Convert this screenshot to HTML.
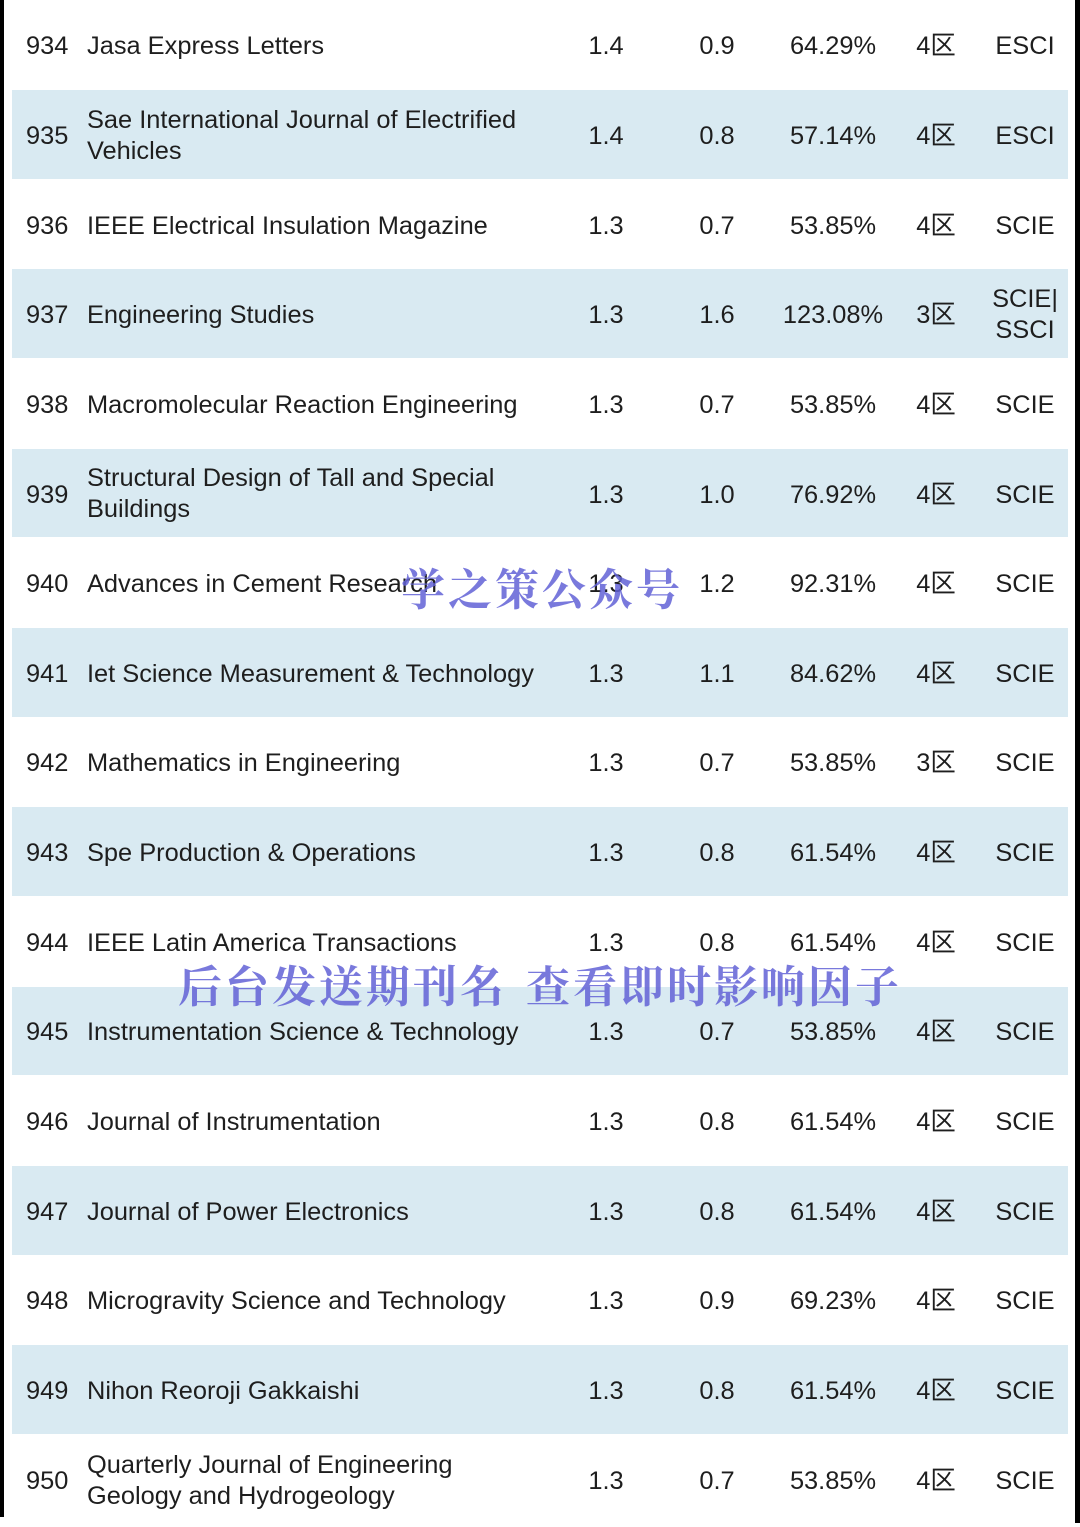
<!DOCTYPE html>
<html>
<head>
<meta charset="utf-8">
<style>
  html,body{margin:0;padding:0;background:#fff;}
  body{width:1080px;height:1527px;position:relative;overflow:hidden;
       font-family:"Liberation Sans","Noto Sans CJK SC",sans-serif;color:#1e1e1e;font-size:25.4px;}
  .bl{position:absolute;left:0;top:0;width:4px;height:1517px;background:#000;}
  .br{position:absolute;left:1075px;top:0;width:5px;height:1523px;background:#000;}
  .r{position:absolute;left:0;width:1080px;height:89.65px;}
  .band{position:absolute;left:12px;width:1056px;top:0.5px;height:88.6px;background:#d9eaf2;}
  .t{position:absolute;top:31.3px;line-height:30px;white-space:nowrap;}
  .t2{position:absolute;top:15.2px;line-height:31px;white-space:nowrap;}
  .n{left:26px;}
  .nm{left:87px;}
  .c{width:160px;margin-left:-80px;text-align:center;}
  .if{left:606px;}
  .c2{left:717px;}
  .pc{left:833px;}
  .z{left:936px;}
  .ty{left:1025px;}
  .wm{position:absolute;font-family:"Noto Serif CJK SC","Noto Serif CJK JP",serif;font-size:44px;line-height:44px;font-weight:700;
      color:rgba(98,98,214,0.85);letter-spacing:3px;white-space:nowrap;z-index:5;}
</style>
</head>
<body>
<div class="bl"></div>
<div class="br"></div>

<div class="r" style="top:0px">
  <div class="t n">934</div><div class="t nm">Jasa Express Letters</div>
  <div class="t c if">1.4</div><div class="t c c2">0.9</div><div class="t c pc">64.29%</div><div class="t c z">4区</div><div class="t c ty">ESCI</div>
</div>

<div class="r" style="top:89.65px"><div class="band"></div>
  <div class="t n">935</div><div class="t2 nm">Sae International Journal of Electrified<br>Vehicles</div>
  <div class="t c if">1.4</div><div class="t c c2">0.8</div><div class="t c pc">57.14%</div><div class="t c z">4区</div><div class="t c ty">ESCI</div>
</div>

<div class="r" style="top:179.3px">
  <div class="t n">936</div><div class="t nm">IEEE Electrical Insulation Magazine</div>
  <div class="t c if">1.3</div><div class="t c c2">0.7</div><div class="t c pc">53.85%</div><div class="t c z">4区</div><div class="t c ty">SCIE</div>
</div>

<div class="r" style="top:268.95px"><div class="band"></div>
  <div class="t n">937</div><div class="t nm">Engineering Studies</div>
  <div class="t c if">1.3</div><div class="t c c2">1.6</div><div class="t c pc">123.08%</div><div class="t c z">3区</div><div class="t2 c ty">SCIE|<br>SSCI</div>
</div>

<div class="r" style="top:358.6px">
  <div class="t n">938</div><div class="t nm">Macromolecular Reaction Engineering</div>
  <div class="t c if">1.3</div><div class="t c c2">0.7</div><div class="t c pc">53.85%</div><div class="t c z">4区</div><div class="t c ty">SCIE</div>
</div>

<div class="r" style="top:448.25px"><div class="band"></div>
  <div class="t n">939</div><div class="t2 nm">Structural Design of Tall and Special<br>Buildings</div>
  <div class="t c if">1.3</div><div class="t c c2">1.0</div><div class="t c pc">76.92%</div><div class="t c z">4区</div><div class="t c ty">SCIE</div>
</div>

<div class="r" style="top:537.9px">
  <div class="t n">940</div><div class="t nm">Advances in Cement Research</div>
  <div class="t c if">1.3</div><div class="t c c2">1.2</div><div class="t c pc">92.31%</div><div class="t c z">4区</div><div class="t c ty">SCIE</div>
</div>

<div class="r" style="top:627.55px"><div class="band"></div>
  <div class="t n">941</div><div class="t nm">Iet Science Measurement &amp; Technology</div>
  <div class="t c if">1.3</div><div class="t c c2">1.1</div><div class="t c pc">84.62%</div><div class="t c z">4区</div><div class="t c ty">SCIE</div>
</div>

<div class="r" style="top:717.2px">
  <div class="t n">942</div><div class="t nm">Mathematics in Engineering</div>
  <div class="t c if">1.3</div><div class="t c c2">0.7</div><div class="t c pc">53.85%</div><div class="t c z">3区</div><div class="t c ty">SCIE</div>
</div>

<div class="r" style="top:806.85px"><div class="band"></div>
  <div class="t n">943</div><div class="t nm">Spe Production &amp; Operations</div>
  <div class="t c if">1.3</div><div class="t c c2">0.8</div><div class="t c pc">61.54%</div><div class="t c z">4区</div><div class="t c ty">SCIE</div>
</div>

<div class="r" style="top:896.5px">
  <div class="t n">944</div><div class="t nm">IEEE Latin America Transactions</div>
  <div class="t c if">1.3</div><div class="t c c2">0.8</div><div class="t c pc">61.54%</div><div class="t c z">4区</div><div class="t c ty">SCIE</div>
</div>

<div class="r" style="top:986.15px"><div class="band"></div>
  <div class="t n">945</div><div class="t nm">Instrumentation Science &amp; Technology</div>
  <div class="t c if">1.3</div><div class="t c c2">0.7</div><div class="t c pc">53.85%</div><div class="t c z">4区</div><div class="t c ty">SCIE</div>
</div>

<div class="r" style="top:1075.8px">
  <div class="t n">946</div><div class="t nm">Journal of Instrumentation</div>
  <div class="t c if">1.3</div><div class="t c c2">0.8</div><div class="t c pc">61.54%</div><div class="t c z">4区</div><div class="t c ty">SCIE</div>
</div>

<div class="r" style="top:1165.45px"><div class="band"></div>
  <div class="t n">947</div><div class="t nm">Journal of Power Electronics</div>
  <div class="t c if">1.3</div><div class="t c c2">0.8</div><div class="t c pc">61.54%</div><div class="t c z">4区</div><div class="t c ty">SCIE</div>
</div>

<div class="r" style="top:1255.1px">
  <div class="t n">948</div><div class="t nm">Microgravity Science and Technology</div>
  <div class="t c if">1.3</div><div class="t c c2">0.9</div><div class="t c pc">69.23%</div><div class="t c z">4区</div><div class="t c ty">SCIE</div>
</div>

<div class="r" style="top:1344.75px"><div class="band"></div>
  <div class="t n">949</div><div class="t nm">Nihon Reoroji Gakkaishi</div>
  <div class="t c if">1.3</div><div class="t c c2">0.8</div><div class="t c pc">61.54%</div><div class="t c z">4区</div><div class="t c ty">SCIE</div>
</div>

<div class="r" style="top:1434.4px">
  <div class="t n">950</div><div class="t2 nm">Quarterly Journal of Engineering<br>Geology and Hydrogeology</div>
  <div class="t c if">1.3</div><div class="t c c2">0.7</div><div class="t c pc">53.85%</div><div class="t c z">4区</div><div class="t c ty">SCIE</div>
</div>

<div class="wm" style="left:401px;top:564px;">学之策公众号</div>
<div class="wm" style="left:178px;top:961px;">后台发送期刊名</div>
<div class="wm" style="left:526px;top:961px;">查看即时影响因子</div>
</body>
</html>
